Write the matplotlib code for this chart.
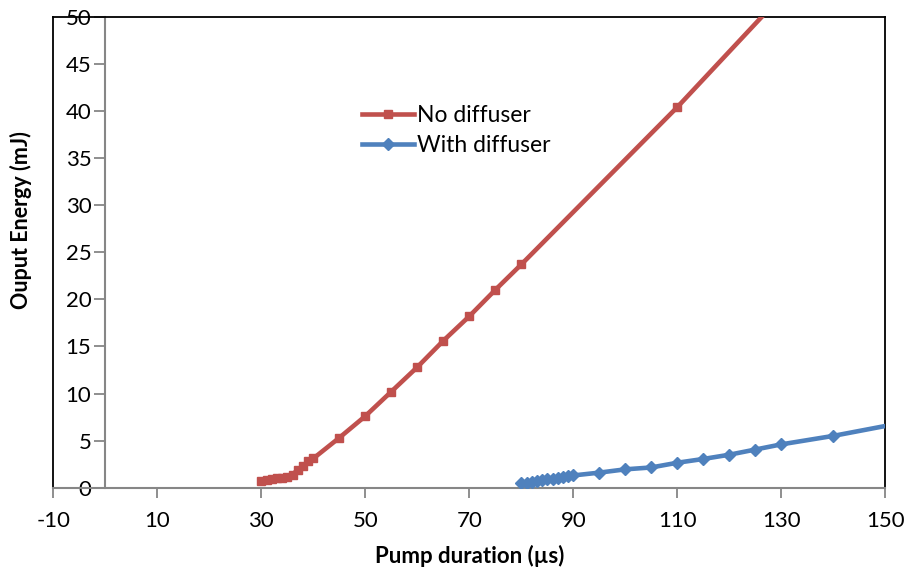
import matplotlib
matplotlib.use("Agg")
import matplotlib.pyplot as plt

plt.rcParams['font.family'] = ['Lato', 'DejaVu Sans']
plt.rcParams['axes.unicode_minus'] = False

# Data
no_diff_x = [30, 31, 32, 33, 34, 35, 36, 37, 38, 39, 40, 45, 50, 55, 60, 65, 70, 75, 80, 110, 130]
no_diff_y = [0.7, 0.8, 0.9, 1.0, 1.05, 1.15, 1.4, 1.9, 2.3, 2.8, 3.1, 5.3, 7.6, 10.2, 12.8, 15.6, 18.2, 21.0, 23.7, 40.4, 52.2]

with_diff_x = [80, 81, 82, 83, 84, 85, 86, 87, 88, 89, 90, 95, 100, 105, 110, 115, 120, 125, 130, 140, 160]
with_diff_y = [0.45, 0.55, 0.65, 0.72, 0.8, 0.88, 0.96, 1.04, 1.12, 1.2, 1.3, 1.6, 1.95, 2.15, 2.65, 3.05, 3.5, 4.05, 4.6, 5.5, 7.6]

x_ticks = [-10, 10, 30, 50, 70, 90, 110, 130, 150]
y_ticks = [0, 5, 10, 15, 20, 25, 30, 35, 40, 45, 50]

RED = '#C0504D'
BLUE = '#4F81BD'
GRAY = '#868686'

fig = plt.figure(figsize=(9.06, 5.67), dpi=100)
ax = fig.add_axes([53.3/906, 1-487.7/567, (885.3-53.3)/906, (487.7-16.7)/567])

ax.plot(no_diff_x, no_diff_y, color=RED, lw=3.3, marker='s', ms=6, label='No diffuser', zorder=3)
ax.plot(with_diff_x, with_diff_y, color=BLUE, lw=3.3, marker='D', ms=6.5, label='With diffuser', zorder=3)

ax.set_xlim(-10, 150)
ax.set_ylim(0, 50)
ax.set_xticks(x_ticks)
ax.set_yticks(y_ticks)

# spines
ax.spines['left'].set_position(('data', 0))
ax.spines['left'].set_color(GRAY)
ax.spines['left'].set_linewidth(1.5)
ax.spines['bottom'].set_color(GRAY)
ax.spines['bottom'].set_linewidth(1.5)
ax.spines['top'].set_color('black')
ax.spines['top'].set_linewidth(1.3)
ax.spines['right'].set_color('black')
ax.spines['right'].set_linewidth(1.3)
ax.axvline(-10, color='black', lw=1.3, clip_on=False, zorder=1)

ax.tick_params(axis='both', which='major', labelsize=16, color=GRAY, width=1.3, direction='out')
ax.tick_params(axis='y', length=8, pad=2)
ax.tick_params(axis='x', length=7, pad=10)

ax.set_xlabel('Pump duration (µs)', fontsize=16, fontweight='bold', labelpad=10)
ax.set_ylabel('Ouput Energy (mJ)', fontsize=15.5, fontweight='bold')
ax.yaxis.set_label_coords(-0.025, 0.568)

leg = ax.legend(loc='upper left', bbox_to_anchor=(0.357, 0.836), frameon=False,
                fontsize=16.5, handlelength=2.27, handletextpad=0.12,
                labelspacing=0.36, borderpad=0)

fig.savefig('out.png', dpi=100)
